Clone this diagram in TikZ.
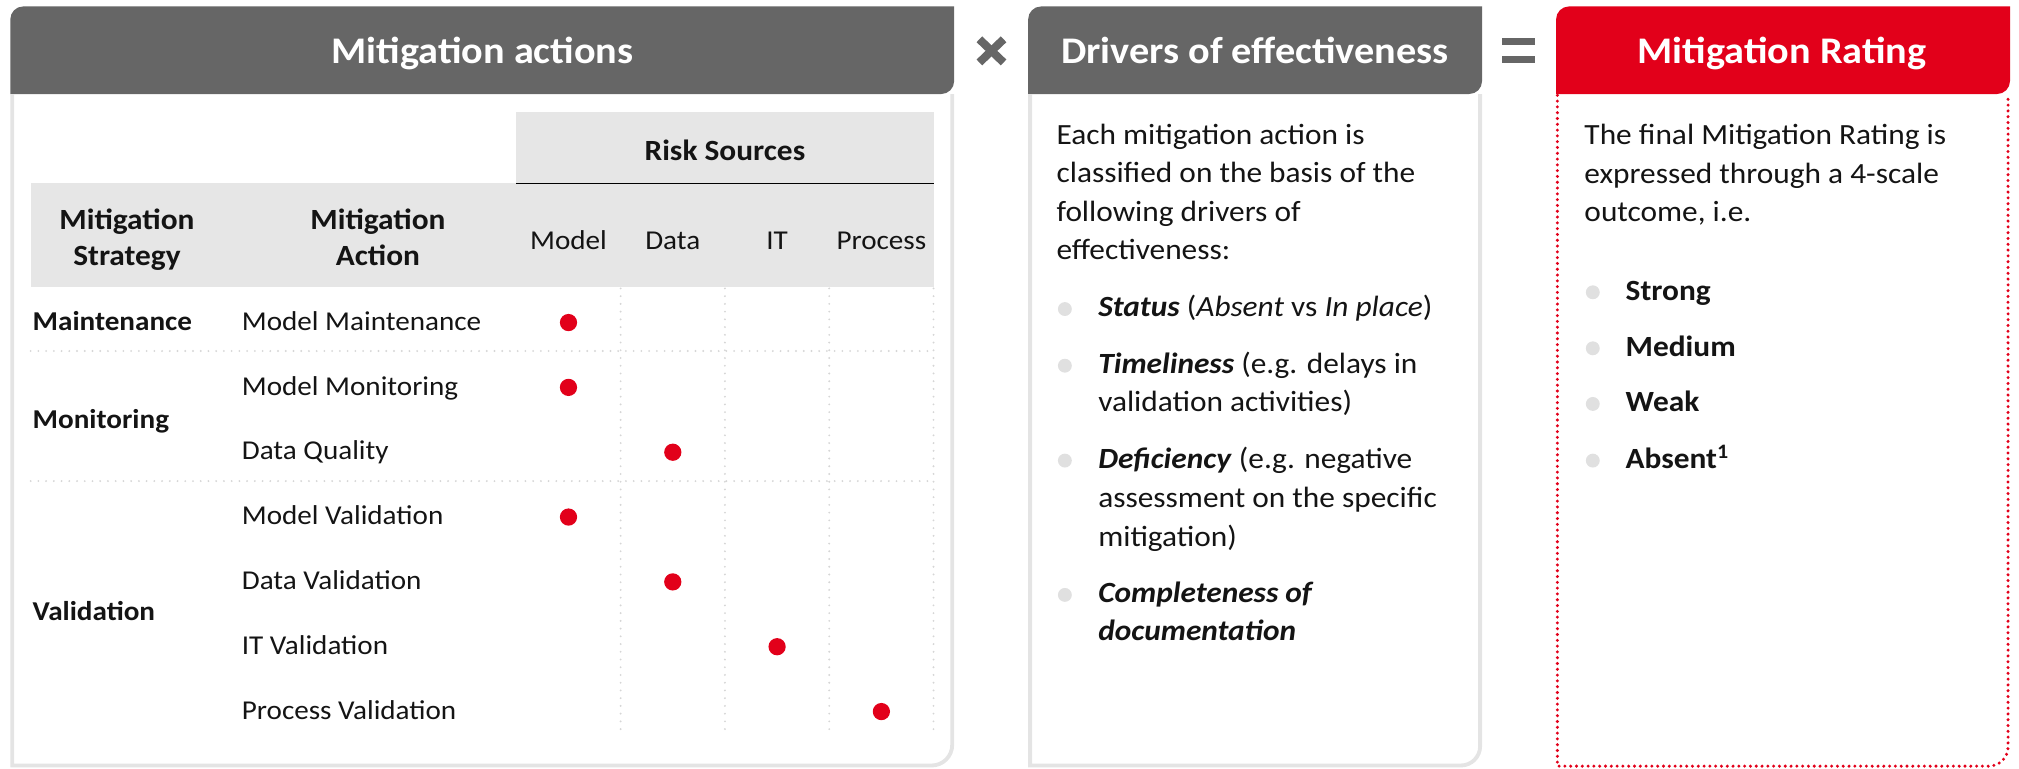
\documentclass[tikz,border=0pt]{standalone}
\usepackage{fontspec}
\setmainfont[FakeStretch=1.07]{Carlito}
\definecolor{hdrgray}{HTML}{666666}
\definecolor{lightbg}{HTML}{E6E6E6}
\definecolor{bordergray}{HTML}{E4E4E4}
\definecolor{dotgray}{HTML}{D6D6D6}
\definecolor{ucred}{HTML}{E2001A}
\definecolor{bulletgray}{HTML}{E0E0E0}
\definecolor{txtblack}{HTML}{141414}
\newcommand{\myBody}{\fontsize{8.34}{10}\selectfont}
\newcommand{\myTab}{\fontsize{7.75}{10}\selectfont}
\newcommand{\myHdr}{\fontsize{10.7}{13}\selectfont\bfseries}
\tikzset{
  hdrtxt/.style={inner sep=0pt, anchor=base, text=white, font=\myHdr},
  bodytxt/.style={inner sep=0pt, anchor=base west, text=txtblack, font=\myBody},
  boldtxt/.style={bodytxt, font=\myBody\bfseries},
  tabtxt/.style={inner sep=0pt, anchor=base west, text=txtblack, font=\myTab},
  tabbold/.style={tabtxt, font=\myTab\bfseries},
  boldctr/.style={inner sep=0pt, anchor=base, text=txtblack, font=\myBody\bfseries},
  colhead/.style={inner sep=0pt, anchor=base, text=txtblack, font=\myTab},
  rdot/.style={fill=ucred},
  gbullet/.style={fill=bulletgray},
  panelborder/.style={draw=bordergray, line width=1.1pt},
  griddot/.style={draw=dotgray, line width=0.6pt, line cap=round, dash pattern=on 0pt off 2.2pt},
  reddotted/.style={draw=ucred, line width=0.95pt, line cap=round, dash pattern=on 0pt off 1.65pt}
}
\begin{document}
\begin{tikzpicture}[x=0.012876cm, y=-0.012876cm]
\useasboundingbox (0,0) rectangle (1568,597);

% ---------- Panel 1 ----------
\fill[hdrgray] (8,73) -- (8,15) arc[start angle=180, end angle=270, radius=10] -- (741,5) -- (741,63) arc[start angle=0, end angle=90, radius=10] -- cycle;
\draw[panelborder] (9.5,73) -- (9.5,594.5) -- (723.5,594.5) arc[start angle=90, end angle=0, radius=16] -- (739.5,73);
\node[hdrtxt] (h1) at (374.8,49.2) {Mitigation actions};

% table backgrounds
\fill[lightbg] (401,86.7) rectangle (725.5,142.4);
\fill[lightbg] (23.8,142.4) rectangle (725.5,222.6);
\draw[black, line width=0.45pt] (401,142.4) -- (725.5,142.4);

% grid dotted lines
\foreach \gx in {482,563,644,725}
  \draw[griddot] (\gx,224) -- (\gx,569.5);
\draw[griddot] (23.8,272.6) -- (725,272.6);
\draw[griddot] (23.8,373.6) -- (725,373.6);

% table header text
\node[boldctr] (rs) at (563,124.8) {Risk Sources};
\node[boldctr] (ms1) at (98.6,178.6) {Mitigation};
\node[boldctr] (ms2) at (98.6,205.8) {Strategy};
\node[boldctr] (ma1) at (293.5,178.6) {Mitigation};
\node[boldctr] (ma2) at (293.5,205.8) {Action};
\node[colhead] (cm) at (441.5,193.6) {Model};
\node[colhead] (cd) at (522.5,193.6) {Data};
\node[colhead] (ci) at (603.5,193.6) {IT};
\node[colhead] (cp) at (684.5,193.6) {Process};

% strategies
\node[tabbold] (s1) at (24.8,256.5) {Maintenance};
\node[tabbold] (s2) at (24.8,332.5) {Monitoring};
\node[tabbold] (s3) at (24.8,482) {Validation};

% actions
\node[tabtxt] (a1) at (187.3,256.5) {Model Maintenance};
\node[tabtxt] (a2) at (187.3,306.85) {Model Monitoring};
\node[tabtxt] (a3) at (187.3,357.2) {Data Quality};
\node[tabtxt] (a4) at (187.3,407.55) {Model Validation};
\node[tabtxt] (a5) at (187.3,457.9) {Data Validation};
\node[tabtxt] (a6) at (187.3,508.25) {IT Validation};
\node[tabtxt] (a7) at (187.3,558.6) {Process Validation};

% red dots
\fill[rdot] (441.5,250.5) circle (6.7);
\fill[rdot] (441.5,300.85) circle (6.7);
\fill[rdot] (522.5,351.2) circle (6.7);
\fill[rdot] (441.5,401.55) circle (6.7);
\fill[rdot] (522.5,451.9) circle (6.7);
\fill[rdot] (603.5,502.25) circle (6.7);
\fill[rdot] (684.5,552.6) circle (6.7);

% ---------- operator symbols ----------
\draw[hdrgray, line width=2.3pt] (760.6,30.5) -- (779.4,48.5);
\draw[hdrgray, line width=2.3pt] (760.6,48.5) -- (779.4,30.5);
\fill[hdrgray] (1166.6,29.3) rectangle (1192.2,35.2);
\fill[hdrgray] (1166.6,43.5) rectangle (1192.2,49.3);

% ---------- Panel 2 ----------
\fill[hdrgray] (798.5,73) -- (798.5,15) arc[start angle=180, end angle=270, radius=10] -- (1151,5) -- (1151,63) arc[start angle=0, end angle=90, radius=10] -- cycle;
\draw[panelborder] (800,73) -- (800,594.5) -- (1134.5,594.5) arc[start angle=90, end angle=0, radius=15] -- (1149.5,73);
\node[hdrtxt] (h2) at (974.7,49.2) {Drivers of effectiveness};

\node[bodytxt] (p2a) at (820,112) {Each mitigation action is};
\node[bodytxt] (p2b) at (820,142) {classified on the basis of the};
\node[bodytxt] (p2c) at (820,172) {following drivers of};
\node[bodytxt] (p2d) at (820,201.9) {effectiveness:};

\fill[gbullet] (827,240) circle (5.4);
\node[bodytxt] (d1) at (852.4,246) {\textbf{\textit{Status}} (\textit{Absent} vs \textit{In place})};
\fill[gbullet] (827,284) circle (5.4);
\node[bodytxt] (d2a) at (852.4,290) {\textbf{\textit{Timeliness}} (e.g. delays in};
\node[bodytxt] (d2b) at (852.4,319.7) {validation activities)};
\fill[gbullet] (827,357.7) circle (5.4);
\node[bodytxt] (d3a) at (852.4,363.7) {\textbf{\textit{Deficiency}} (e.g. negative};
\node[bodytxt] (d3b) at (852.4,394.2) {assessment on the specific};
\node[bodytxt] (d3c) at (852.4,424.6) {mitigation)};
\fill[gbullet] (827,462) circle (5.4);
\node[bodytxt] (d4a) at (852.4,468) {\textbf{\textit{Completeness of}}};
\node[bodytxt] (d4b) at (852.4,497.6) {\textbf{\textit{documentation}}};

% ---------- Panel 3 ----------
\fill[ucred] (1208.5,73) -- (1208.5,15) arc[start angle=180, end angle=270, radius=10] -- (1561,5) -- (1561,63) arc[start angle=0, end angle=90, radius=10] -- cycle;
\draw[reddotted] (1209.5,74) -- (1209.5,595) -- (1544.5,595) arc[start angle=90, end angle=0, radius=15] -- (1559.5,74);
\node[hdrtxt] (h3) at (1384,49.2) {Mitigation Rating};

\node[bodytxt] (p3a) at (1230,112) {The final Mitigation Rating is};
\node[bodytxt] (p3b) at (1230,142.2) {expressed through a 4-scale};
\node[bodytxt] (p3c) at (1230,172.2) {outcome, i.e.};

\fill[gbullet] (1237,227) circle (5.4);
\node[boldtxt] (r1) at (1262,233) {Strong};
\fill[gbullet] (1237,270.5) circle (5.4);
\node[boldtxt] (r2) at (1262,276.5) {Medium};
\fill[gbullet] (1237,313.7) circle (5.4);
\node[boldtxt] (r3) at (1262,319.7) {Weak};
\fill[gbullet] (1237,357.7) circle (5.4);
\node[boldtxt] (r4) at (1262,363.7) {Absent\textsuperscript{1}};
\end{tikzpicture}
\end{document}
